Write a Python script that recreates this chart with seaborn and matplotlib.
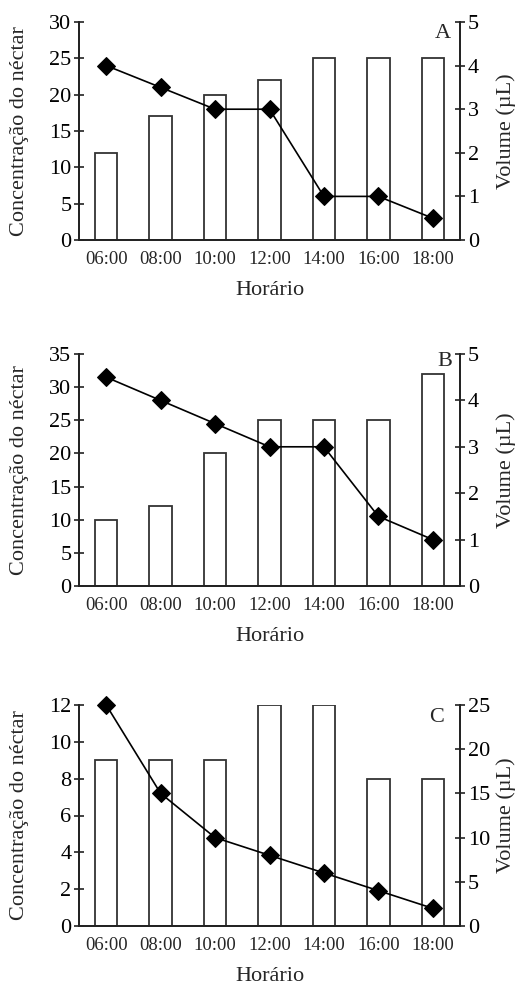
import numpy as np
import pandas as pd
import matplotlib
matplotlib.use("Agg")
import matplotlib.pyplot as plt
from matplotlib.ticker import FixedLocator
import seaborn as sns

sns.set_theme(style="white")
plt.rcParams['font.family'] = ['Liberation Serif', 'DejaVu Serif']

hours = ["06:00", "08:00", "10:00", "12:00", "14:00", "16:00", "18:00"]

conc_A = [12, 17, 20, 22, 25, 25, 25]
vol_A = [4, 3.5, 3, 3, 1, 1, 0.5]
conc_B = [10, 12, 20, 25, 25, 25, 32]
vol_B = [4.5, 4, 3.5, 3, 3, 1.5, 1]
conc_C = [9, 9, 9, 12, 12, 8, 8]
vol_C = [25, 15, 10, 8, 6, 4, 2]

panels = [
    dict(letter="A", conc=conc_A, vol=vol_A, ylim=30, yticks=range(0, 31, 5), vlim=5, vticks=range(0, 6)),
    dict(letter="B", conc=conc_B, vol=vol_B, ylim=35, yticks=range(0, 36, 5), vlim=5, vticks=range(0, 6)),
    dict(letter="C", conc=conc_C, vol=vol_C, ylim=12, yticks=range(0, 13, 2), vlim=25, vticks=range(0, 26, 5)),
]

W, H = 516, 985
fig = plt.figure(figsize=(W / 100, H / 100), dpi=100)

# axes boxes in pixels: (left, top, right, bottom)
boxes = [(79, 22, 460, 240), (79, 354, 460, 586), (79, 705, 460, 926)]
letter_pos = [(443, 33), (445, 362), (437, 718)]

spine_col = "#222222"
for p, (l, t, r, b), (lx, ly) in zip(panels, boxes, letter_pos):
    ax = fig.add_axes([l / W, 1 - b / H, (r - l) / W, (b - t) / H])
    df = pd.DataFrame({"Horário": hours, "conc": p["conc"]})
    sns.barplot(data=df, x="Horário", y="conc", ax=ax, color="white",
                edgecolor="#333333", linewidth=1.3, width=0.41, saturation=1)
    ax.set_xlim(-0.5, len(hours) - 0.5)
    ax.set_ylim(0, p["ylim"])
    ax.set_yticks(list(p["yticks"]))
    ax.tick_params(axis="y", direction="inout", length=7, width=1.2, labelsize=16,
                   colors=spine_col, labelcolor="black", pad=2)
    ax.tick_params(axis="x", which="major", length=0, labelsize=13.5, pad=8)
    ax.xaxis.set_minor_locator(FixedLocator(np.arange(-0.5, len(hours), 1.0)))
    ax.tick_params(axis="x", which="minor", direction="inout", length=8, width=1.2, colors=spine_col)
    ax.set_xlabel("Horário", fontsize=16)
    ax.xaxis.set_label_coords(0.5, -41 / (b - t))
    ax.set_ylabel("Concentração do néctar", fontsize=16)
    ax.yaxis.set_label_coords(-50 / (r - l), 0.5)
    ax.spines["top"].set_visible(False)
    for s in ["left", "bottom", "right"]:
        ax.spines[s].set_color(spine_col)
        ax.spines[s].set_linewidth(1.3)

    ax2 = ax.twinx()
    sns.lineplot(x=np.arange(len(hours)), y=p["vol"], ax=ax2, color="black",
                 marker="D", markersize=9, linewidth=1.2, markeredgecolor="black",
                 clip_on=False, zorder=5)
    ax2.set_ylim(0, p["vlim"])
    ax2.set_yticks(list(p["vticks"]))
    ax2.tick_params(axis="y", direction="inout", length=7, width=1.2, labelsize=16,
                    colors=spine_col, labelcolor="black", pad=2)
    ax2.set_ylabel("Volume (µL)", fontsize=16)
    ax2.yaxis.set_label_coords(1 + 36 / (r - l), 0.5)
    ax2.spines["top"].set_visible(False)
    for s in ["left", "bottom", "right"]:
        ax2.spines[s].set_color(spine_col)
        ax2.spines[s].set_linewidth(1.3)
    ax2.grid(False)
    ax.grid(False)
    fig.text(lx / W, 1 - ly / H, p["letter"], fontsize=16, ha="center", va="center")

fig.savefig("out.png", dpi=100)
